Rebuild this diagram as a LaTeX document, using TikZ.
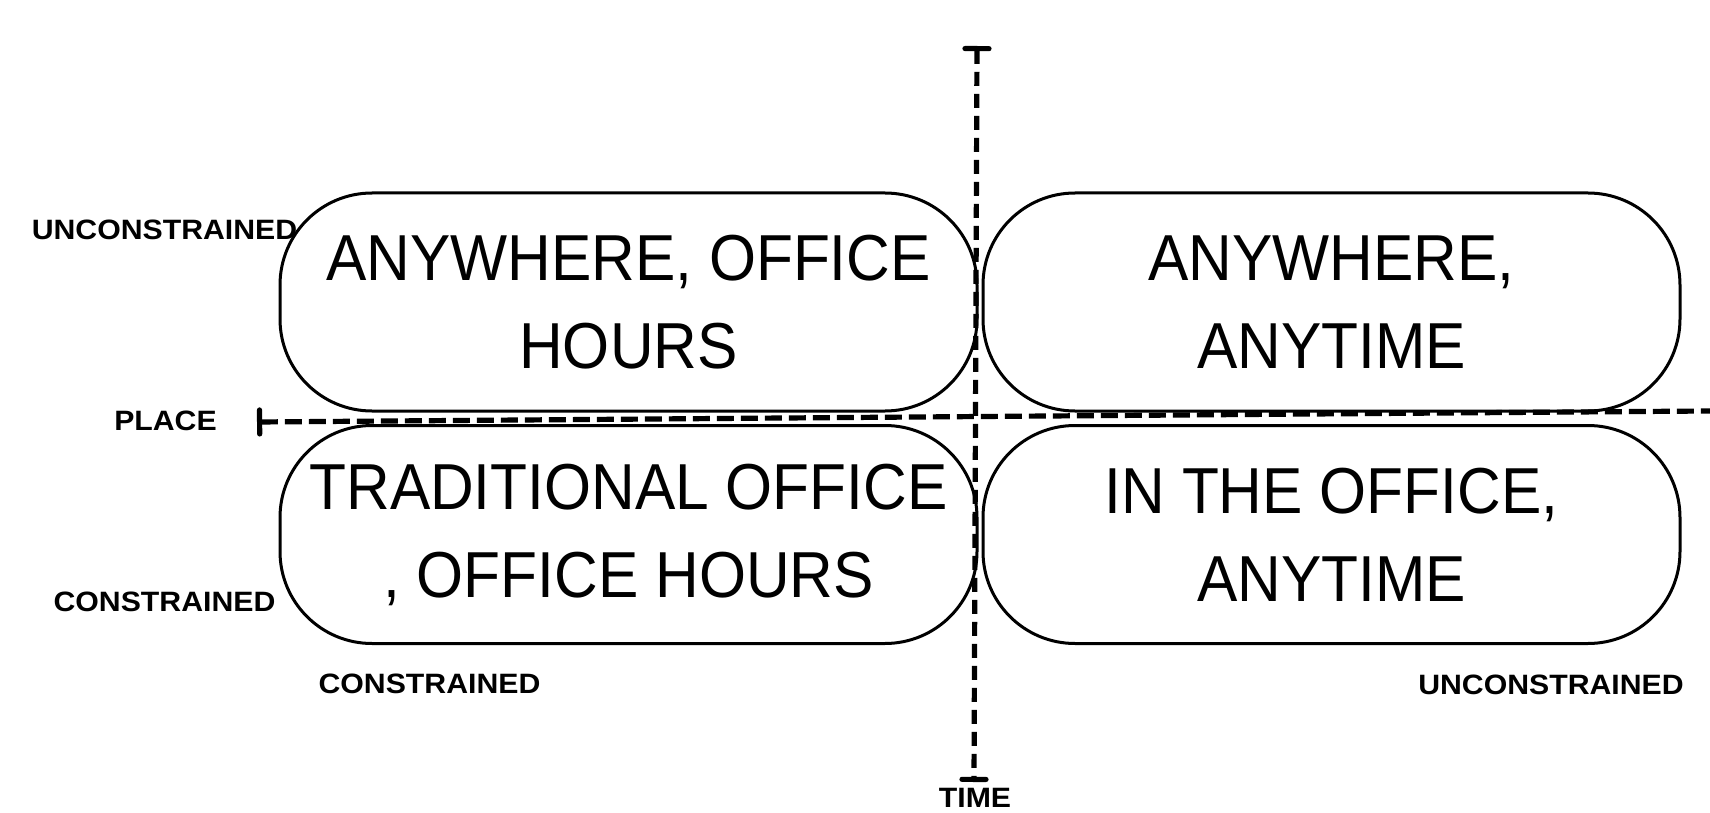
\documentclass[tikz,border=0pt]{standalone}
\usepackage{fontspec}
\usepackage{tikz}
\usetikzlibrary{arrows.meta, positioning}

\newfontfamily\quadfont[FakeStretch=0.93]{Liberation Sans}
\newfontfamily\axisfont[FakeStretch=1.08]{Liberation Sans}

\begin{document}
\begin{tikzpicture}[
  x=0.5pt, y=-0.5pt,
  qbox/.style={
    rectangle, rounded corners=46pt, draw=black, line width=1.5pt,
    minimum width=348.5pt, minimum height=109pt, inner sep=0pt,
    align=center, font=\quadfont\fontsize{32.5}{44}\selectfont
  },
  alabel/.style={font=\axisfont\bfseries\fontsize{14}{16}\selectfont, inner sep=0pt},
  axisline/.style={draw=black, line width=2.6pt, dash pattern=on 8.5pt off 3.5pt}
]
\useasboundingbox (0,0) rectangle (1710,813);
\clip (0,0) rectangle (1710,813);

% === Quadrants ===
\node[qbox] (q1) at (628.5,302) {ANYWHERE, OFFICE\\HOURS};
\node[qbox] (q2) at (1331.5,302) {ANYWHERE,\\ANYTIME};
\node[qbox] (q3) at (628.5,534.5) {TRADITIONAL OFFICE\\, OFFICE HOURS};
\node[qbox] (q4) at (1331.5,534.5) {IN THE OFFICE,\\ANYTIME};

% === Axis ends ===
\coordinate (placeL) at (257,422);
\coordinate (placeR) at (1760,410.6);
\coordinate (timeT) at (977,46);
\coordinate (timeB) at (974,782);

% === Axes ===
\draw[axisline, {Bar[width=12pt, round]}-] (placeL) -- (placeR);
\draw[axisline, dash pattern=on 7pt off 4pt,
      {Bar[width=12pt, round]}-{Bar[width=12pt, round]}] (timeT) -- (timeB);

% === Axis labels ===
\node[alabel] (placeHi) at (164.5,230) {UNCONSTRAINED};
\node[alabel] (placeName) at (165.5,421) {PLACE};
\node[alabel] (placeLo) at (164.5,602) {CONSTRAINED};
\node[alabel] (timeLo) at (429.5,684) {CONSTRAINED};
\node[alabel] (timeHi) at (1551,685) {UNCONSTRAINED};
\node[alabel] (timeName) at (975,798) {TIME};

\end{tikzpicture}
\end{document}
